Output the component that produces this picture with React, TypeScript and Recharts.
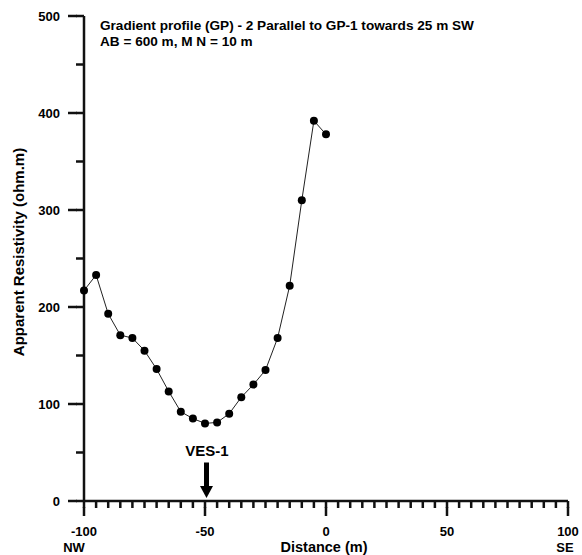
import React from "react";
import { LineChart, Line, XAxis, YAxis, ReferenceDot } from "recharts";

const distances = [-100, -95, -90, -85, -80, -75, -70, -65, -60, -55, -50, -45, -40, -35, -30, -25, -20, -15, -10, -5, 0];
const resistivity = [217, 233, 193, 171, 168, 155, 136, 113, 92, 85, 80, 81, 90, 107, 120, 135, 168, 222, 310, 392, 378];
const xTicks = [-100, -95, -90, -85, -80, -75, -70, -65, -60, -55, -50, -45, -40, -35, -30, -25, -20, -15, -10, -5, 0, 5, 10, 15, 20, 25, 30, 35, 40, 45, 50, 55, 60, 65, 70, 75, 80, 85, 90, 95, 100];
const yTicks = [0, 50, 100, 150, 200, 250, 300, 350, 400, 450, 500];
const titleLines = ["Gradient profile (GP) - 2 Parallel to GP-1 towards 25 m SW", "AB = 600 m, M N = 10 m"];
const markerX = -50;
const markerLabel = "VES-1";

const data = distances.map((d, i) => ({ x: d, y: resistivity[i] }));

const FONT = "'Liberation Sans', Arial, Helvetica, sans-serif";
const INK = "#000000";
const RULE = "#111111";
const RULE_W = 2.5;
const MINOR_X = 7;
const MINOR_Y = 8;

const XTick = (props: any) => {
  const { x, y, payload } = props;
  const v = payload.value;
  const major = v % 50 === 0;
  return (
    <g>
      {major && <path d={`M${x},${y - 1}L${x},${y + 8}`} stroke={RULE} strokeWidth={RULE_W} fill="none" />}
      {major && (
        <text x={x} y={y + 27.5} textAnchor="middle" fontFamily={FONT} fontWeight="bold" fontSize={13} fill={INK}>
          {String(v)}
        </text>
      )}
      {v === -100 && (
        <text x={x - 10} y={y + 44} textAnchor="middle" fontFamily={FONT} fontWeight="bold" fontSize={13} fill={INK}>
          NW
        </text>
      )}
      {v === 100 && (
        <text x={x - 3} y={y + 44} textAnchor="middle" fontFamily={FONT} fontWeight="bold" fontSize={13} fill={INK}>
          SE
        </text>
      )}
    </g>
  );
};

const YTick = (props: any) => {
  const { x, y, payload } = props;
  const v = payload.value;
  const major = v % 100 === 0;
  return (
    <g>
      {major && <path d={`M${x - 8},${y}L${x + 1},${y}`} stroke={RULE} strokeWidth={RULE_W} fill="none" />}
      {major && (
        <text x={x - 16} y={y + 4.5} textAnchor="end" fontFamily={FONT} fontWeight="bold" fontSize={13} fill={INK}>
          {String(v)}
        </text>
      )}
    </g>
  );
};

const VesMarker = (props: any) => {
  const { cx, cy } = props;
  const ax = cx + 1.5;
  return (
    <g>
      <text x={ax + 0.5} y={cy - 45.5} textAnchor="middle" fontFamily={FONT} fontWeight="bold" fontSize={15} fill={INK}>
        {markerLabel}
      </text>
      <rect x={ax - 2.5} y={cy - 38.5} width={5} height={24.5} fill={INK} />
      <polygon points={`${ax - 6.5},${cy - 15} ${ax + 6.5},${cy - 15} ${ax},${cy - 3}`} fill={INK} />
    </g>
  );
};

export default function App() {
  return (
    <div style={{ position: "absolute", left: 0, top: 0, width: 582, height: 555, background: "#fff" }}>
      <LineChart width={582} height={555} data={data} margin={{ top: 16, right: 14, left: 0, bottom: 0 }}>
        <XAxis
          type="number"
          dataKey="x"
          domain={[-100, 100]}
          ticks={xTicks}
          interval={0}
          tickSize={MINOR_X}
          tickMargin={0}
          stroke={RULE}
          tickLine={{ stroke: RULE, strokeWidth: RULE_W }}
          axisLine={{ stroke: RULE, strokeWidth: RULE_W }}
          tick={<XTick />}
          height={54}
          label={{
            content: (p: any) => {
              const vb = p.viewBox || { x: 84, y: 501, width: 484 };
              return (
                <text x={vb.x + vb.width / 2 - 2} y={vb.y + 50.8} textAnchor="middle" fontFamily={FONT} fontWeight="bold" fontSize={14.5} fill={INK}>
                  Distance (m)
                </text>
              );
            },
          }}
        />
        <YAxis
          type="number"
          domain={[0, 500]}
          ticks={yTicks}
          interval={0}
          tickSize={MINOR_Y}
          tickMargin={0}
          stroke={RULE}
          tickLine={{ stroke: RULE, strokeWidth: RULE_W }}
          axisLine={{ stroke: RULE, strokeWidth: RULE_W }}
          tick={<YTick />}
          width={84}
          label={{
            content: () => (
              <text x={23.5} y={252} transform="rotate(-90 23.5 252)" textAnchor="middle" fontFamily={FONT} fontWeight="bold" fontSize={15} fill={INK}>
                Apparent Resistivity (ohm.m)
              </text>
            ),
          }}
        />
        <Line
          type="linear"
          dataKey="y"
          stroke="#222"
          strokeWidth={1}
          dot={{ r: 4, fill: INK, stroke: INK, strokeWidth: 0 }}
          isAnimationActive={false}
        />
        <ReferenceDot x={markerX} y={0} ifOverflow="visible" shape={<VesMarker />} />
      </LineChart>
      <svg width={582} height={60} style={{ position: "absolute", left: 0, top: 0, pointerEvents: "none" }}>
        <text x={100} y={29.5} fontFamily={FONT} fontWeight="bold" fontSize={13.6} fill={INK}>
          {titleLines[0]}
        </text>
        <text x={100} y={46} fontFamily={FONT} fontWeight="bold" fontSize={13.6} fill={INK}>
          {titleLines[1]}
        </text>
      </svg>
    </div>
  );
}
